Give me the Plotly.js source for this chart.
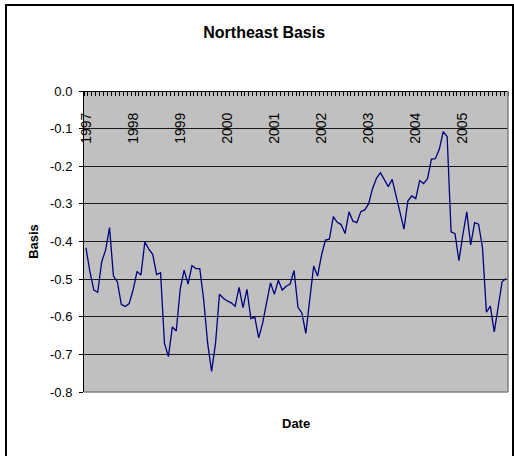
<!DOCTYPE html>
<html>
<head>
<meta charset="utf-8">
<script src="https://cdn.plot.ly/plotly-3.0.1.min.js"></script>
<style>
  html, body { margin: 0; padding: 0; background: #ffffff; }
  #wrap { position: relative; width: 514px; height: 456px; overflow: hidden; }
  #chart { position: absolute; left: 0; top: 0; width: 514px; height: 456px; }
  #frame { position: absolute; left: 5px; top: 4px; width: 505px; height: 470px;
           border: 2px solid #000000; pointer-events: none; }
</style>
</head>
<body>
<div id="wrap">
  <div id="chart"></div>
  <div id="frame"></div>
</div>
<script>
// Year labels (one per January) and monthly basis values, Jan 1997 - Dec 2005
const years = ['1997', '1998', '1999', '2000', '2001', '2002', '2003', '2004', '2005'];

const basis = [
  // 1997
  -0.417, -0.480, -0.529, -0.535, -0.454, -0.423, -0.363, -0.492, -0.507, -0.567, -0.573, -0.565,
  // 1998
  -0.529, -0.480, -0.489, -0.401, -0.420, -0.434, -0.488, -0.483, -0.671, -0.706, -0.627, -0.638,
  // 1999
  -0.527, -0.476, -0.513, -0.464, -0.472, -0.472, -0.556, -0.671, -0.745, -0.671, -0.540, -0.551,
  // 2000
  -0.558, -0.563, -0.572, -0.522, -0.576, -0.527, -0.605, -0.601, -0.656, -0.617, -0.563, -0.510,
  // 2001
  -0.540, -0.503, -0.529, -0.519, -0.513, -0.477, -0.575, -0.590, -0.644, -0.555, -0.465, -0.492,
  // 2002
  -0.436, -0.396, -0.394, -0.334, -0.349, -0.355, -0.379, -0.321, -0.346, -0.350, -0.321, -0.316,
  // 2003
  -0.300, -0.259, -0.232, -0.217, -0.235, -0.254, -0.235, -0.279, -0.323, -0.367, -0.292, -0.279,
  // 2004
  -0.286, -0.238, -0.246, -0.233, -0.181, -0.180, -0.155, -0.108, -0.121, -0.374, -0.379, -0.451,
  // 2005
  -0.382, -0.321, -0.409, -0.350, -0.354, -0.416, -0.588, -0.572, -0.640, -0.575, -0.507, -0.498
];

const yTickVals = [0, -0.1, -0.2, -0.3, -0.4, -0.5, -0.6, -0.7, -0.8];
const yTickText = ['0.0', '-0.1', '-0.2', '-0.3', '-0.4', '-0.5', '-0.6', '-0.7', '-0.8'];

const titleText = 'Northeast Basis';
const xTitleText = 'Date';
const yTitleText = 'Basis';

// month index for each value; January of each year carries the year label
const monthIndex = basis.map((_, i) => i);
const yearTickVals = years.map((_, k) => k * 12);

const FONT = 'Liberation Sans, Arial, sans-serif';

const trace = {
  x: monthIndex,
  y: basis,
  type: 'scatter',
  mode: 'lines',
  line: { color: '#000080', width: 1.3 },
  hoverinfo: 'skip'
};

const layout = {
  width: 514,
  height: 456,
  margin: { l: 84, r: 6, t: 91, b: 64 },
  paper_bgcolor: '#ffffff',
  plot_bgcolor: '#c0c0c0',
  showlegend: false,
  font: { family: FONT, color: '#000000', size: 13 },
  title: {
    text: titleText,
    font: { family: FONT, size: 16, color: '#000000', weight: 'bold' },
    xref: 'container', x: 0.514, xanchor: 'center',
    yref: 'container', y: 0.930, yanchor: 'middle'
  },
  xaxis: {
    range: [-0.5, basis.length - 0.5],
    anchor: 'free',
    position: 1,
    side: 'bottom',
    showgrid: false,
    zeroline: false,
    showline: true,
    linecolor: '#000000',
    linewidth: 1,
    tickmode: 'array',
    tickvals: yearTickVals,
    ticktext: years,
    tickangle: -90,
    ticks: '',
    ticklabelstandoff: 15,
    tickfont: { family: FONT, size: 14, color: '#000000' },
    minor: {
      tick0: -0.5,
      dtick: 1,
      ticks: 'outside',
      ticklen: 4,
      tickcolor: '#000000',
      tickwidth: 1,
      showgrid: false
    }
  },
  yaxis: {
    range: [-0.8, 0],
    tickmode: 'array',
    tickvals: yTickVals,
    ticktext: yTickText,
    showgrid: true,
    gridcolor: '#1a1a1a',
    gridwidth: 1,
    zeroline: false,
    showline: true,
    linecolor: '#000000',
    linewidth: 1,
    ticks: 'outside',
    ticklen: 4,
    tickcolor: '#000000',
    ticklabelstandoff: 4,
    tickfont: { family: FONT, size: 13, color: '#000000' },
    automargin: false,
    title: {
      text: yTitleText,
      font: { family: FONT, size: 13, color: '#000000', weight: 'bold' },
      standoff: 8
    }
  },
  shapes: [
    { type: 'line', xref: 'paper', yref: 'paper', x0: 0, x1: 1, y0: 0, y1: 0,
      line: { color: '#808080', width: 1.5 }, layer: 'above' },
    { type: 'line', xref: 'paper', yref: 'paper', x0: 1, x1: 1, y0: 0, y1: 1,
      line: { color: '#808080', width: 1.5 }, layer: 'above' }
  ],
  annotations: [
    { text: xTitleText, xref: 'paper', yref: 'paper', x: 0.5, y: -0.103,
      xanchor: 'center', yanchor: 'middle', showarrow: false,
      font: { family: FONT, size: 13, color: '#000000', weight: 'bold' } }
  ]
};

Plotly.newPlot('chart', [trace], layout, { staticPlot: true, displayModeBar: false });
</script>
</body>
</html>
